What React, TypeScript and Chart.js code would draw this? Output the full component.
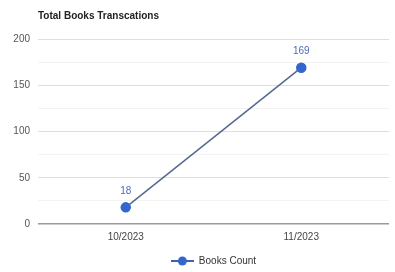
import React, { useEffect, useRef } from "react";
import { Chart, registerables } from "chart.js";

Chart.register(...registerables);

const categories = ["10/2023", "11/2023"];
const booksCount = [18, 169];
const seriesName = "Books Count";
const titleText = "Total Books Transcations";
const yMajorTicks = [0, 50, 100, 150, 200];

const FONT = "'Liberation Sans', Arial, sans-serif";

function makeLegendIcon(): HTMLCanvasElement {
  const c = document.createElement("canvas");
  c.width = 23;
  c.height = 10;
  const ctx = c.getContext("2d")!;
  ctx.strokeStyle = "#3a63b8";
  ctx.lineWidth = 2;
  ctx.beginPath();
  ctx.moveTo(0, 5);
  ctx.lineTo(23, 5);
  ctx.stroke();
  ctx.fillStyle = "#3366cc";
  ctx.beginPath();
  ctx.arc(11.5, 5, 4.5, 0, Math.PI * 2);
  ctx.fill();
  return c;
}

const dataLabelPlugin = {
  id: "dataLabels",
  afterDatasetsDraw(chart: any) {
    const ctx = chart.ctx;
    const meta = chart.getDatasetMeta(0);
    ctx.save();
    ctx.font = `10px ${FONT}`;
    ctx.fillStyle = "#4a6db5";
    ctx.textAlign = "center";
    ctx.textBaseline = "middle";
    meta.data.forEach((pt: any, i: number) => {
      ctx.fillText(String(chart.data.datasets[0].data[i]), pt.x, pt.y - 16);
    });
    ctx.restore();
  },
};

export default function App() {
  const ref = useRef<HTMLCanvasElement>(null);
  useEffect(() => {
    document.body.style.margin = "0";
    const icon = makeLegendIcon();
    const chart = new Chart(ref.current!, {
      type: "line",
      data: {
        labels: categories,
        datasets: [
          {
            label: seriesName,
            data: booksCount,
            borderColor: "#56688f",
            borderWidth: 1.5,
            pointBackgroundColor: "#3366cc",
            pointBorderColor: "#3366cc",
            pointRadius: 4.5,
          },
        ],
      },
      options: {
        animation: false,
        responsive: false,
        maintainAspectRatio: false,
        layout: { padding: { left: 0, right: 0, top: 0, bottom: -4 } },
        plugins: {
          title: {
            display: true,
            text: titleText,
            align: "start",
            fullSize: false,
            color: "#222",
            font: { family: FONT, size: 10, weight: "bold" },
            padding: { top: 10, bottom: 17 },
          },
          legend: {
            position: "bottom",
            fullSize: false,
            labels: {
              usePointStyle: true,
              pointStyleWidth: 23,
              generateLabels: () => [
                {
                  text: seriesName,
                  pointStyle: icon as any,
                  fillStyle: "#3366cc",
                  strokeStyle: "#3366cc",
                  lineWidth: 0,
                  hidden: false,
                  datasetIndex: 0,
                  fontColor: "#333",
                } as any,
              ],
              color: "#333",
              font: { family: FONT, size: 10 },
              padding: 3,
            },
          },
          tooltip: { enabled: false },
        },
        scales: {
          x: {
            offset: true,
            grid: { display: false, drawTicks: false },
            border: { display: false },
            afterFit: (scale: any) => {
              scale.height = 29;
            },
            ticks: {
              color: "#444",
              font: { family: FONT, size: 10 },
              padding: 7,
            },
          },
          y: {
            min: 0,
            max: 200,
            afterFit: (scale: any) => {
              scale.width = 38;
            },
            afterBuildTicks: (scale: any) => {
              const t: any[] = [];
              for (let v = 0; v <= 200; v += 25) t.push({ value: v });
              scale.ticks = t;
            },
            border: { display: false },
            grid: {
              color: (c: any) => {
                const v = c.tick ? c.tick.value : 0;
                if (v === 0) return "#9a9a9a";
                return yMajorTicks.includes(v) ? "#dedede" : "#f3f3f3";
              },
              lineWidth: (c: any) => (c.tick && c.tick.value === 0 ? 1.5 : 1),
              drawTicks: false,
            },
            ticks: {
              color: "#555",
              font: { family: FONT, size: 10 },
              padding: 8,
              callback: (v: any) => (yMajorTicks.includes(Number(v)) ? String(v) : ""),
            },
          },
        },
      },
      plugins: [dataLabelPlugin],
    });
    return () => chart.destroy();
  }, []);
  return (
    <div style={{ width: 395, height: 272 }}>
      <canvas ref={ref} width={395} height={272} style={{ display: "block" }} />
    </div>
  );
}
